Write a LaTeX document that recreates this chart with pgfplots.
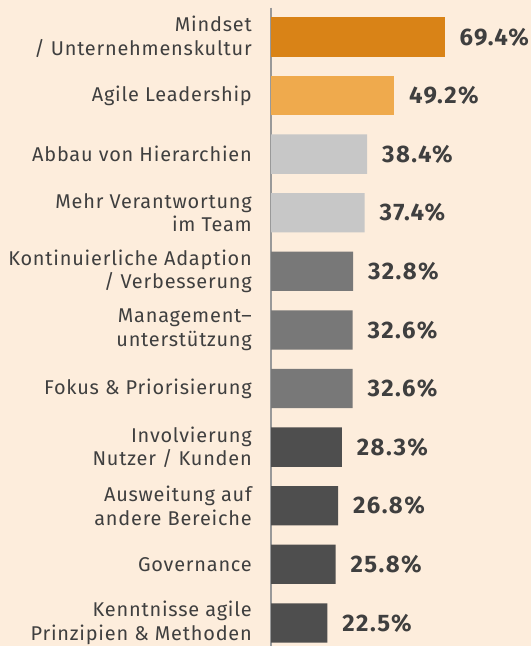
\documentclass[border=0pt]{standalone}
\usepackage{pgfplots}
\pgfplotsset{compat=1.18}
\usepackage{fontspec}
\setmainfont{Fira Sans}[LetterSpace=4]
\newfontfamily\valfont{Fira Sans}[LetterSpace=6,BoldFont={Fira Sans Bold}]
\definecolor{bg}{HTML}{FDEDDC}
\definecolor{orD}{HTML}{D98317}
\definecolor{orL}{HTML}{EFAA4D}
\definecolor{grL}{HTML}{C7C7C7}
\definecolor{grM}{HTML}{787878}
\definecolor{grD}{HTML}{4E4E4E}
\definecolor{txt}{HTML}{3F3F3F}
\definecolor{axl}{HTML}{999999}
\begin{document}
\begin{tikzpicture}
\fill[bg] (0,0) rectangle (531bp,646bp);
\begin{axis}[
  at={(271bp,0bp)}, anchor=south west,
  scale only axis,
  width=260bp, height=638.4bp,
  xmin=0, xmax=104,
  ymin=-0.5, ymax=10.394,
  y dir=reverse,
  axis x line=none,
  axis y line*=left,
  y axis line style={draw=axl, line width=2bp, -},
  xbar, bar width=39.3bp, bar shift=0pt,
  ytick={0,...,10},
  major tick length=0pt,
  yticklabels={{Mindset\\/ Unternehmenskultur},{Agile Leadership},{Abbau von Hierarchien},{Mehr Verantwortung\\im Team},{Kontinuierliche Adaption\\/ Verbesserung},{Management--\\unterstützung},{Fokus \& Priorisierung},{Involvierung\\Nutzer / Kunden},{Ausweitung auf\\andere Bereiche},{Governance},{Kenntnisse agile\\Prinzipien \& Methoden}},
  yticklabel style={align=right, anchor=east, inner sep=0pt, xshift=-19bp, text=txt, font=\fontsize{20}{23.5}\selectfont},
  nodes near coords={\pgfmathprintnumber[fixed,fixed zerofill,precision=1,assume math mode=true]{\pgfplotspointmeta}\%},
  nodes near coords style={anchor=west, inner sep=0pt, xshift=15bp, text=txt, font=\valfont\bfseries\fontsize{24}{26}\selectfont},
  point meta=x,
  clip=false,
]
\addplot[fill=orD, draw=none] coordinates {(69.4,0)};
\addplot[fill=orL, draw=none] coordinates {(49.2,1)};
\addplot[fill=grL, draw=none] coordinates {(38.4,2) (37.4,3)};
\addplot[fill=grM, draw=none] coordinates {(32.8,4) (32.6,5) (32.6,6)};
\addplot[fill=grD, draw=none] coordinates {(28.3,7) (26.8,8) (25.8,9) (22.5,10)};
\end{axis}
\pgfresetboundingbox
\path (0,0) rectangle (531bp,646bp);
\end{tikzpicture}
\end{document}
